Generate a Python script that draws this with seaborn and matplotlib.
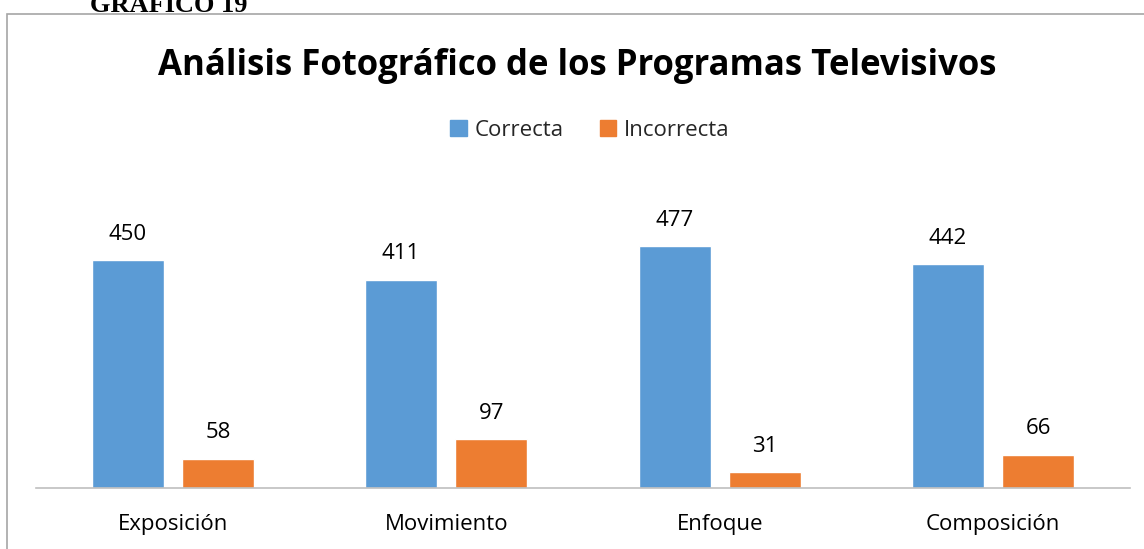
import matplotlib
matplotlib.use("Agg")
import matplotlib.pyplot as plt
import seaborn as sns
import pandas as pd
from matplotlib.patches import Rectangle

categories = ["Exposición", "Movimiento", "Enfoque", "Composición"]
correcta = [450, 411, 477, 442]
incorrecta = [58, 97, 31, 66]
series_names = ["Correcta", "Incorrecta"]
colors = ["#5B9BD5", "#ED7D31"]

df = pd.DataFrame({
    "cat": categories * 2,
    "serie": [series_names[0]] * 4 + [series_names[1]] * 4,
    "val": correcta + incorrecta,
})

sns.set_theme(style="white")
plt.rcParams["font.family"] = ["Open Sans", "DejaVu Sans"]

W, H = 1144, 549
fig = plt.figure(figsize=(W / 100, H / 100), dpi=100)
ax = fig.add_axes([36 / W, 61 / H, (1130 - 36) / W, (488 - 184) / H])

sns.barplot(data=df, x="cat", y="val", hue="serie", palette=colors,
            width=0.66, gap=0.2, ax=ax, legend=False, saturation=1)

ax.set_ylim(0, 600)
ax.set_xlim(-0.5, 3.5)
ax.set_xlabel("")
ax.set_ylabel("")
ax.set_yticks([])
for s in ["top", "right", "left"]:
    ax.spines[s].set_visible(False)
ax.spines["bottom"].set_color("#BFBFBF")
ax.spines["bottom"].set_linewidth(1.2)
ax.tick_params(axis="x", length=0, pad=19, labelsize=16, labelcolor="#000000")

for cont in ax.containers:
    ax.bar_label(cont, padding=11, fontsize=16, color="#000000")

# Title
fig.text(577 / W, 1 - 75 / H, "Análisis Fotográfico de los Programas Televisivos",
         ha="center", va="baseline", fontsize=25, fontweight="bold", color="#000000")

# Legend
handles = [Rectangle((0, 0), 1, 1, color=c) for c in colors]
fig.legend(handles, series_names, loc="center", bbox_to_anchor=(590 / W, 1 - 130 / H),
           ncol=2, frameon=False, fontsize=16, handlelength=0.75, handleheight=0.75,
           columnspacing=1.6, handletextpad=0.35)

# Outer border of the chart area
fig.patches.append(Rectangle((7 / W, -0.1), 1.2, 1.1 - 14 / H, transform=fig.transFigure,
                             fill=False, edgecolor="#A6A6A6", linewidth=1.2))

# Cut-off caption above
fig.text(90 / W, 1 - 12 / H, "GRÁFICO 19", ha="left", va="baseline",
         fontsize=19, fontweight="bold", family="Liberation Serif", color="#000000")

fig.savefig("out.png", dpi=100)
